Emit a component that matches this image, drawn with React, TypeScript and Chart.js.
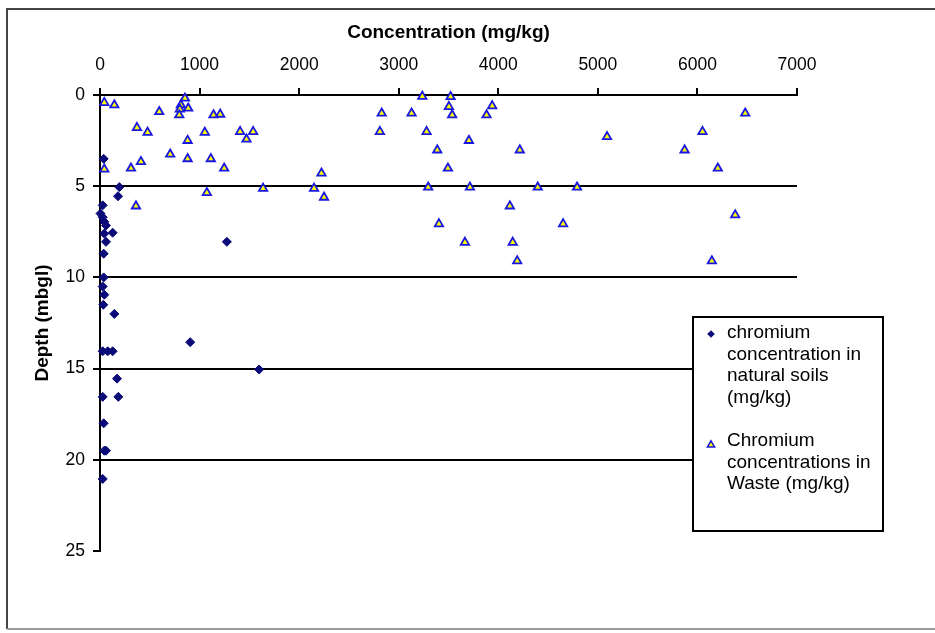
import React, { useEffect, useRef } from 'react';
import { Chart, registerables } from 'chart.js';

Chart.register(...registerables);

const FONT = '"Liberation Sans", Arial, sans-serif';

// Chromium concentration in natural soils (mg/kg) vs depth (mbgl)
const naturalConc = [37, 194, 181, 27, 5, 27, 43, 60, 127, 43, 60, 37, 1274, 37, 27, 43, 33, 144, 906, 27, 77, 127, 1598, 171, 27, 184, 37, 43, 60, 27];
const naturalDepth = [3.5, 5.05, 5.55, 6.05, 6.5, 6.7, 6.95, 7.15, 7.55, 7.6, 8.05, 8.7, 8.05, 10, 10.5, 10.95, 11.5, 12, 13.55, 14.05, 14.05, 14.05, 15.05, 15.55, 16.55, 16.55, 18, 19.5, 19.5, 21.05];

// Chromium concentrations in waste (mg/kg) vs depth (mbgl)
const wasteConc = [43, 144, 595, 853, 812, 886, 802, 796, 1140, 1207, 371, 478, 880, 1053, 1407, 1471, 1538, 705, 880, 1113, 411, 311, 43, 1247, 2224, 1073, 1638, 2150, 2250, 361, 2829, 3129, 2811, 3237, 3521, 3504, 3537, 3939, 3882, 3280, 3705, 3387, 4216, 3494, 5092, 6051, 6480, 5871, 6205, 3296, 3715, 4396, 4791, 4116, 6379, 3404, 4651, 3665, 4145, 4190, 6145];
const wasteDepth = [0.42, 0.55, 0.92, 0.18, 0.55, 0.73, 0.78, 1.1, 1.1, 1.06, 1.79, 2.05, 2.5, 2.05, 2.01, 2.43, 2.01, 3.25, 3.5, 3.5, 3.66, 4.02, 4.07, 4.02, 4.29, 5.36, 5.12, 5.12, 5.61, 6.09, 1.0, 1.0, 2.01, 0.08, 0.1, 0.64, 1.1, 0.6, 1.1, 2.01, 2.5, 3.02, 3.02, 4.02, 2.29, 2.01, 1.0, 3.02, 4.02, 5.06, 5.06, 5.06, 5.06, 6.09, 6.58, 7.07, 7.07, 8.08, 8.08, 9.1, 9.1];

const xMin = 0;
const xMax = 7000;
const xStep = 1000;
const yMin = 0;
const yMax = 25;
const yStep = 5;

const xTitle = 'Concentration (mg/kg)';
const yTitle = 'Depth (mbgl)';
const legendNatural = ['chromium', 'concentration in', 'natural soils', '(mg/kg)'];
const legendWaste = ['Chromium', 'concentrations in', 'Waste (mg/kg)'];

const NAVY = '#0a0a78';
const BLUE = '#1818e0';
const YELLOW = '#ffff00';

const framePlugin = {
  id: 'frame',
  beforeDraw(chart: any) {
    const ctx = chart.ctx;
    ctx.save();
    ctx.fillStyle = '#ffffff';
    ctx.fillRect(0, 0, chart.width, chart.height);
    ctx.strokeStyle = '#444444';
    ctx.lineWidth = 2;
    ctx.beginPath();
    ctx.moveTo(chart.width + 5, 9);
    ctx.lineTo(7, 9);
    ctx.lineTo(7, 629);
    ctx.stroke();
    ctx.strokeStyle = '#9a9a9a';
    ctx.beginPath();
    ctx.moveTo(7, 629);
    ctx.lineTo(chart.width + 5, 629);
    ctx.stroke();
    ctx.restore();
  },
};

const legendPlugin = {
  id: 'customLegend',
  afterDraw(chart: any) {
    const ctx = chart.ctx;
    ctx.save();
    const bx = 693, by = 317, bw = 190, bh = 214;
    ctx.fillStyle = '#ffffff';
    ctx.fillRect(bx, by, bw, bh);
    ctx.strokeStyle = '#000000';
    ctx.lineWidth = 2;
    ctx.strokeRect(bx, by, bw, bh);

    // diamond marker
    const dx = 711, dy = 334, dr = 3.8;
    ctx.fillStyle = NAVY;
    ctx.beginPath();
    ctx.moveTo(dx, dy - dr);
    ctx.lineTo(dx + dr, dy);
    ctx.lineTo(dx, dy + dr);
    ctx.lineTo(dx - dr, dy);
    ctx.closePath();
    ctx.fill();

    // triangle marker
    const tx = 711, ty = 445, tr = 4.2;
    ctx.beginPath();
    for (let i = 0; i < 3; i++) {
      const a = (i * 2 * Math.PI) / 3;
      const px = tx + Math.sin(a) * tr;
      const py = ty - Math.cos(a) * tr;
      if (i === 0) ctx.moveTo(px, py); else ctx.lineTo(px, py);
    }
    ctx.closePath();
    ctx.fillStyle = YELLOW;
    ctx.fill();
    ctx.strokeStyle = BLUE;
    ctx.lineWidth = 1.5;
    ctx.stroke();

    ctx.fillStyle = '#000000';
    ctx.font = '19px ' + FONT;
    ctx.textAlign = 'left';
    ctx.textBaseline = 'middle';
    legendNatural.forEach((t, i) => ctx.fillText(t, 727, 333 + i * 21.5));
    legendWaste.forEach((t, i) => ctx.fillText(t, 727, 441 + i * 21.5));
    ctx.restore();
  },
};

export default function App() {
  const canvasRef = useRef<HTMLCanvasElement | null>(null);

  useEffect(() => {
    const canvas = canvasRef.current;
    if (!canvas) return;
    const natural = naturalConc.map((x, i) => ({ x, y: naturalDepth[i] }));
    const waste = wasteConc.map((x, i) => ({ x, y: wasteDepth[i] }));

    const chart = new Chart(canvas, {
      type: 'scatter',
      data: {
        datasets: [
          {
            label: legendNatural.join(' '),
            data: natural,
            pointStyle: 'rectRot',
            pointRadius: 4.5,
            backgroundColor: NAVY,
            borderColor: NAVY,
            borderWidth: 1,
            clip: false,
          } as any,
          {
            label: legendWaste.join(' '),
            data: waste,
            pointStyle: 'triangle',
            pointRadius: 4.8,
            backgroundColor: YELLOW,
            borderColor: BLUE,
            borderWidth: 1.8,
            clip: false,
          } as any,
        ],
      },
      options: {
        animation: false,
        responsive: false,
        devicePixelRatio: 1,
        layout: { padding: { left: 0, top: 0, right: 138, bottom: 82 } },
        plugins: {
          legend: { display: false },
          tooltip: { enabled: false },
        },
        scales: {
          x: {
            type: 'linear',
            position: 'top',
            min: xMin,
            max: xMax,
            ticks: {
              stepSize: xStep,
              color: '#000',
              padding: 12,
              font: { size: 17.5, family: FONT },
              callback: (v: any) => String(v),
            },
            grid: {
              drawOnChartArea: false,
              color: '#000',
              lineWidth: 2,
              tickLength: 7,
              tickColor: '#000',
              tickWidth: 2,
            },
            border: { display: true, color: '#000', width: 2 },
            title: {
              display: true,
              text: xTitle,
              color: '#000',
              font: { size: 19, weight: 'bold', family: FONT },
              padding: { top: 21, bottom: 0 },
            },
            afterFit: (s: any) => { s.height = 95; },
          } as any,
          y: {
            type: 'linear',
            reverse: true,
            min: yMin,
            max: yMax,
            ticks: {
              stepSize: yStep,
              color: '#000',
              padding: 8,
              font: { size: 17.5, family: FONT },
              callback: (v: any) => String(v),
            },
            grid: {
              color: (c: any) => (c.tick && c.tick.value === yMax ? 'rgba(0,0,0,0)' : '#000'),
              lineWidth: 2,
              tickLength: 7,
              tickColor: '#000',
              tickWidth: 2,
            },
            border: { display: true, color: '#000', width: 2 },
            title: {
              display: true,
              text: yTitle,
              color: '#000',
              font: { size: 19, weight: 'bold', family: FONT },
              padding: { top: 31, bottom: 0 },
            },
            afterFit: (s: any) => { s.width = 100; },
          } as any,
        },
      },
      plugins: [framePlugin, legendPlugin],
    });

    return () => chart.destroy();
  }, []);

  return (
    <div style={{ position: 'absolute', left: 0, top: 0, width: 935, height: 633, background: '#fff' }}>
      <canvas ref={canvasRef} width={935} height={633} style={{ width: 935, height: 633, display: 'block' }} />
    </div>
  );
}
